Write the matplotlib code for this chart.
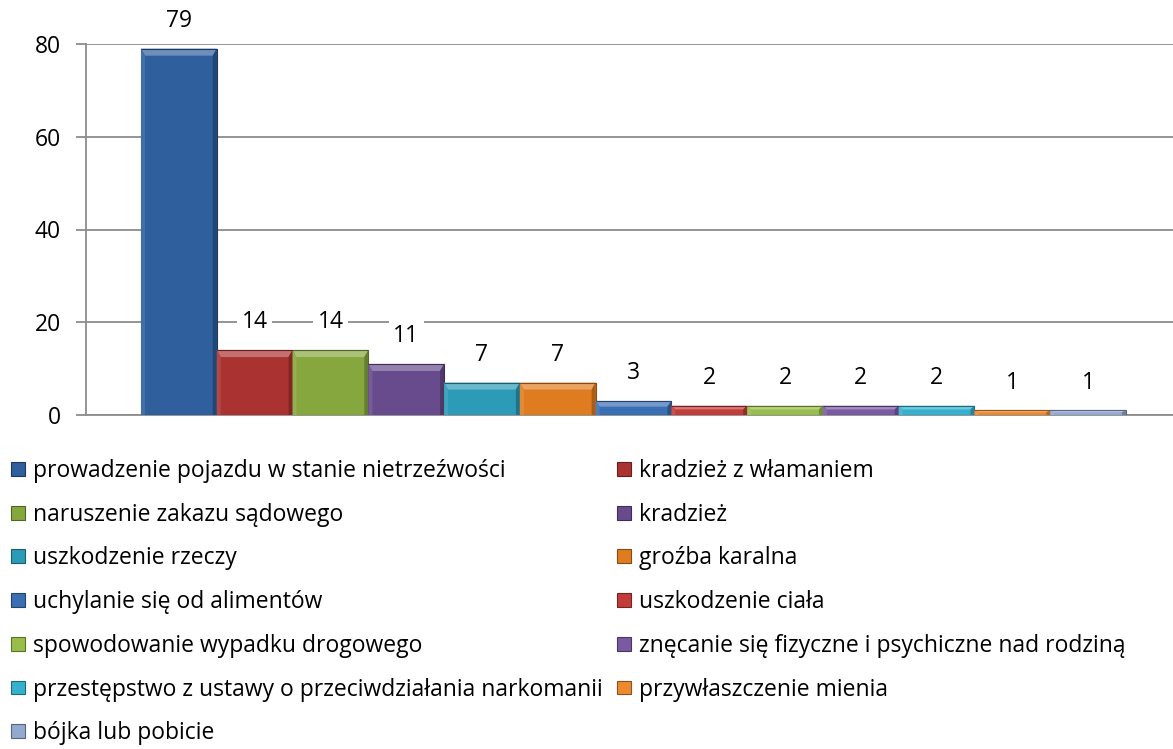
import matplotlib.pyplot as plt
from matplotlib.patches import Polygon, Rectangle
import matplotlib.colors as mcolors

plt.rcParams['font.family'] = ['Open Sans', 'DejaVu Sans']

# dane
categories = [
    'prowadzenie pojazdu w stanie nietrzeźwości',
    'kradzież z włamaniem',
    'naruszenie zakazu sądowego',
    'kradzież',
    'uszkodzenie rzeczy',
    'groźba karalna',
    'uchylanie się od alimentów',
    'uszkodzenie ciała',
    'spowodowanie wypadku drogowego',
    'znęcanie się fizyczne i psychiczne nad rodziną',
    'przestępstwo z ustawy o przeciwdziałania narkomanii',
    'przywłaszczenie mienia',
    'bójka lub pobicie',
]
values = [79, 14, 14, 11, 7, 7, 3, 2, 2, 2, 2, 1, 1]
colors = ['#2f5f9c', '#aa3331', '#86a73d', '#684b8c', '#2b9bb7', '#e07c20',
          '#3a6fb3', '#c23c3a', '#98bd4b', '#7a5aa3', '#35b0cf', '#ee8a2e', '#94a9cf']
yticks = [0, 20, 40, 60, 80]

FS = 16.5
W, H = 1173, 749
fig = plt.figure(figsize=(W / 100, H / 100), dpi=100)
# os w pikselach: lewa 86, prawa ~1181 (obcięta), góra 44, dół 415
ax = fig.add_axes([86 / W, (H - 415) / H, 1095 / W, 371 / H])
ax.set_ylim(0, 80)
ax.set_xlim(-0.5 - 0.726, len(values) - 0.5 + 0.726)

grid_c = '#8c8c8c'
ax.set_yticks(yticks)
ax.yaxis.grid(True, color=grid_c, lw=1.3, zorder=0)
ax.set_axisbelow(True)
for s in ['top', 'right']:
    ax.spines[s].set_visible(False)
ax.spines['left'].set_color(grid_c)
ax.spines['left'].set_linewidth(1.3)
ax.spines['bottom'].set_color(grid_c)
ax.spines['bottom'].set_linewidth(1.3)
ax.set_xticks([])
ax.tick_params(axis='y', length=7, width=1.3, color=grid_c, labelsize=FS, pad=11, labelcolor='black')

# przeliczenie pikseli na jednostki danych (efekt fazowania)
px_x = (ax.get_xlim()[1] - ax.get_xlim()[0]) / 1095
px_y = 80 / 371
bx, by = 4 * px_x, 7 * px_y


def shade(c, f):
    r, g, b = mcolors.to_rgb(c)
    if f > 1:
        return (r + (1 - r) * (f - 1), g + (1 - g) * (f - 1), b + (1 - b) * (f - 1))
    return (r * f, g * f, b * f)


handles = []
for i, (v, c) in enumerate(zip(values, colors)):
    x0, x1 = i - 0.5, i + 0.5
    byy = min(by, v / 2.5)
    h = ax.bar(i, v, width=1.0, color=c, edgecolor=shade(c, 0.6), linewidth=0.8, zorder=3, label=categories[i])
    handles.append(h)
    # fazowanie: góra jasna, lewa jaśniejsza, prawa ciemniejsza
    ax.add_patch(Polygon([(x0, v), (x1, v), (x1 - bx, v - byy), (x0 + bx, v - byy)],
                         closed=True, color=shade(c, 1.3), lw=0, zorder=4))
    ax.add_patch(Polygon([(x0, 0), (x0, v), (x0 + bx, v - byy), (x0 + bx, 0)],
                         closed=True, color=shade(c, 1.1), lw=0, zorder=4))
    ax.add_patch(Polygon([(x1, 0), (x1, v), (x1 - bx, v - byy), (x1 - bx, 0)],
                         closed=True, color=shade(c, 0.75), lw=0, zorder=4))
    ax.add_patch(Rectangle((x0, v), 1.0, 0, fill=False, ec=shade(c, 0.6), lw=0.8, zorder=5))
    ax.annotate(str(v), (i, v), xytext=(0, 20), textcoords='offset points',
                ha='center', va='center', fontsize=FS, zorder=6,
                bbox=dict(boxstyle='square,pad=0.2', fc='white', ec='none'))

# legenda: dwie kolumny, wiersz po wierszu (osobna legenda na kolumnę)
leg_kw = dict(loc='upper left', frameon=False, fontsize=FS, handlelength=0.6,
              handleheight=0.55, handletextpad=0.35, labelspacing=0.86,
              borderaxespad=0.0, borderpad=0.0)
col1 = list(range(0, len(values), 2))
col2 = list(range(1, len(values), 2))
fig.legend([handles[k] for k in col1], [categories[k] for k in col1],
           bbox_to_anchor=(11 / W, (H - 459) / H), **leg_kw)
fig.legend([handles[k] for k in col2], [categories[k] for k in col2],
           bbox_to_anchor=(617 / W, (H - 459) / H), **leg_kw)

fig.savefig('out.png', dpi=100)
